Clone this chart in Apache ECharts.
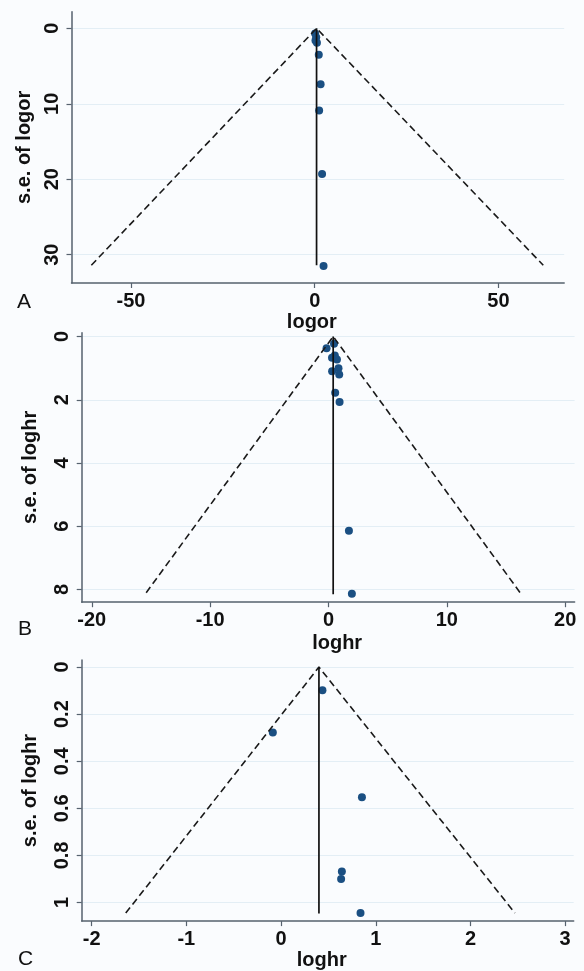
<!DOCTYPE html>
<html>
<head>
<meta charset="utf-8">
<script src="https://cdn.jsdelivr.net/npm/echarts@6/dist/echarts.min.js"></script>
<style>
html,body{margin:0;padding:0;background:#fafcfe;}
#chart{width:584px;height:971px;}
</style>
</head>
<body>
<div id="chart"></div>
<script>
// ---------- Panel A (logor) ----------
const aLogor = [0.1, 0.4, 0.2, 0.6, 1.1, 1.6, 1.2, 2.0, 2.4];
const aSe    = [0.7, 1.2, 1.6, 1.9, 3.5, 7.4, 10.9, 19.3, 31.5];
const aPooled = 0.5;
const aFunnelX  = [-60.8, 0.5, 62.2];
const aFunnelSe = [31.4, 0, 31.4];
const aLineSe   = [0, 31.4];
const aTicksX = [-50, 0, 50];
const aTicksY = [0, 10, 20, 30];

// ---------- Panel B (loghr) ----------
const bLoghr = [0.47, -0.16, 0.54, 0.3, 0.72, 0.85, 0.31, 0.91, 0.57, 0.94, 1.73, 1.98];
const bSe    = [0.23, 0.37, 0.6, 0.67, 0.73, 1.0, 1.1, 1.2, 1.78, 2.07, 6.14, 8.13];
const bPooled = 0.4;
const bFunnelX  = [-15.4, 0.4, 16.2];
const bFunnelSe = [8.1, 0, 8.1];
const bLineSe   = [0, 8.15];
const bTicksX = [-20, -10, 0, 10, 20];
const bTicksY = [0, 2, 4, 6, 8];

// ---------- Panel C (loghr) ----------
const cLoghr = [0.437, -0.087, 0.854, 0.642, 0.634, 0.839];
const cSe    = [0.099, 0.278, 0.553, 0.868, 0.9, 1.045];
const cPooled = 0.4;
const cFunnelX  = [-1.64, 0.4, 2.47];
const cFunnelSe = [1.045, 0, 1.045];
const cLineSe   = [0, 1.047];
const cTicksX = [-2, -1, 0, 1, 2, 3];
const cTicksY = [0, 0.2, 0.4, 0.6, 0.8, 1];

const panelLetters = ['A', 'B', 'C'];
const xNames = ['logor', 'loghr', 'loghr'];
const yNames = ['s.e. of logor', 's.e. of loghr', 's.e. of loghr'];

const FONT = '"Liberation Sans", Arial, sans-serif';
const AXIS_COLOR = '#56626e';
const GRID_COLOR = '#e3eef5';
const DOT_COLOR = '#1a4f82';

function zip(xs, ys) { return xs.map((x, i) => [x, ys[i]]); }

const grids = [
  {left: 71.5, top: 11.7, width: 492.7, height: 271.3},
  {left: 81.7, top: 332.7, width: 492.9, height: 269.5},
  {left: 81.7, top: 660, width: 492.0, height: 272.7}
];
const xRanges = [[-66.2, 67.9], [-20.85, 20.8], [-2.105, 3.09]];
const yRanges = [[-2.2, 33.75], [-0.12, 8.4], [-0.03, 1.079]];
const xTicks = [aTicksX, bTicksX, cTicksX];
const yTicks = [aTicksY, bTicksY, cTicksY];
const xNamePad = [[0, 12, 0, 0], [0, 0, 0, 18], [0, 12, 0, 0]];
const yNameGap = [29, 41, 41];
const xNameGap = [29, 31, 21];

const xAxes = [], yAxes = [];
for (let i = 0; i < 3; i++) {
  xAxes.push({
    type: 'value', gridIndex: i,
    min: xRanges[i][0], max: xRanges[i][1],
    name: xNames[i], nameLocation: 'middle', nameGap: xNameGap[i],
    nameTextStyle: {fontFamily: FONT, fontWeight: 'bold', fontSize: 20, color: '#111', padding: xNamePad[i]},
    axisLine: {show: true, onZero: false, lineStyle: {color: AXIS_COLOR, width: 1.5}},
    axisTick: {show: true, length: 5, customValues: xTicks[i], lineStyle: {color: AXIS_COLOR, width: 1.2}},
    axisLabel: {customValues: xTicks[i], margin: 8, fontFamily: FONT, fontWeight: 'bold', fontSize: 20, color: '#111'},
    splitLine: {show: false}
  });
  yAxes.push({
    type: 'value', gridIndex: i, inverse: true,
    min: yRanges[i][0], max: yRanges[i][1],
    name: yNames[i], nameLocation: 'middle', nameGap: yNameGap[i], nameRotate: 90,
    nameTextStyle: {fontFamily: FONT, fontWeight: 'bold', fontSize: 20, color: '#111'},
    axisLine: {show: true, onZero: false, lineStyle: {color: AXIS_COLOR, width: 1.5}},
    axisTick: {show: true, length: 5, customValues: yTicks[i], lineStyle: {color: AXIS_COLOR, width: 1.2}},
    axisLabel: {customValues: yTicks[i], rotate: 90, margin: 9, fontFamily: FONT, fontWeight: 'bold', fontSize: 20, color: '#111'},
    splitLine: {show: true, lineStyle: {color: GRID_COLOR, width: 1}}
  });
}

const points = [zip(aLogor, aSe), zip(bLoghr, bSe), zip(cLoghr, cSe)];
const funnels = [zip(aFunnelX, aFunnelSe), zip(bFunnelX, bFunnelSe), zip(cFunnelX, cFunnelSe)];
const pooled = [aPooled, bPooled, cPooled];
const lineSe = [aLineSe, bLineSe, cLineSe];

const series = [];
for (let i = 0; i < 3; i++) {
  series.push({
    type: 'line', xAxisIndex: i, yAxisIndex: i, data: funnels[i],
    symbol: 'none', silent: true, animation: false,
    lineStyle: {color: '#1a1a1a', width: 1.6, type: [7, 4]}
  });
  series.push({
    type: 'line', xAxisIndex: i, yAxisIndex: i,
    data: lineSe[i].map(s => [pooled[i], s]),
    symbol: 'none', silent: true, animation: false,
    lineStyle: {color: '#111', width: 1.7}
  });
  series.push({
    type: 'scatter', xAxisIndex: i, yAxisIndex: i, data: points[i],
    symbolSize: 8, animation: false,
    itemStyle: {color: DOT_COLOR, opacity: 1}
  });
}

const letterPos = [[24, 303], [25, 630], [25, 960]];
const graphic = panelLetters.map((t, i) => ({
  type: 'text', left: letterPos[i][0] - 7, top: letterPos[i][1] - 11,
  style: {text: t, font: '21px "Liberation Sans", Arial, sans-serif', fill: '#111'}
}));

const chart = echarts.init(document.getElementById('chart'), null, {renderer: 'canvas'});
chart.setOption({
  backgroundColor: '#fafcfe',
  animation: false,
  grid: grids,
  xAxis: xAxes,
  yAxis: yAxes,
  series: series,
  graphic: graphic
});
</script>
</body>
</html>
